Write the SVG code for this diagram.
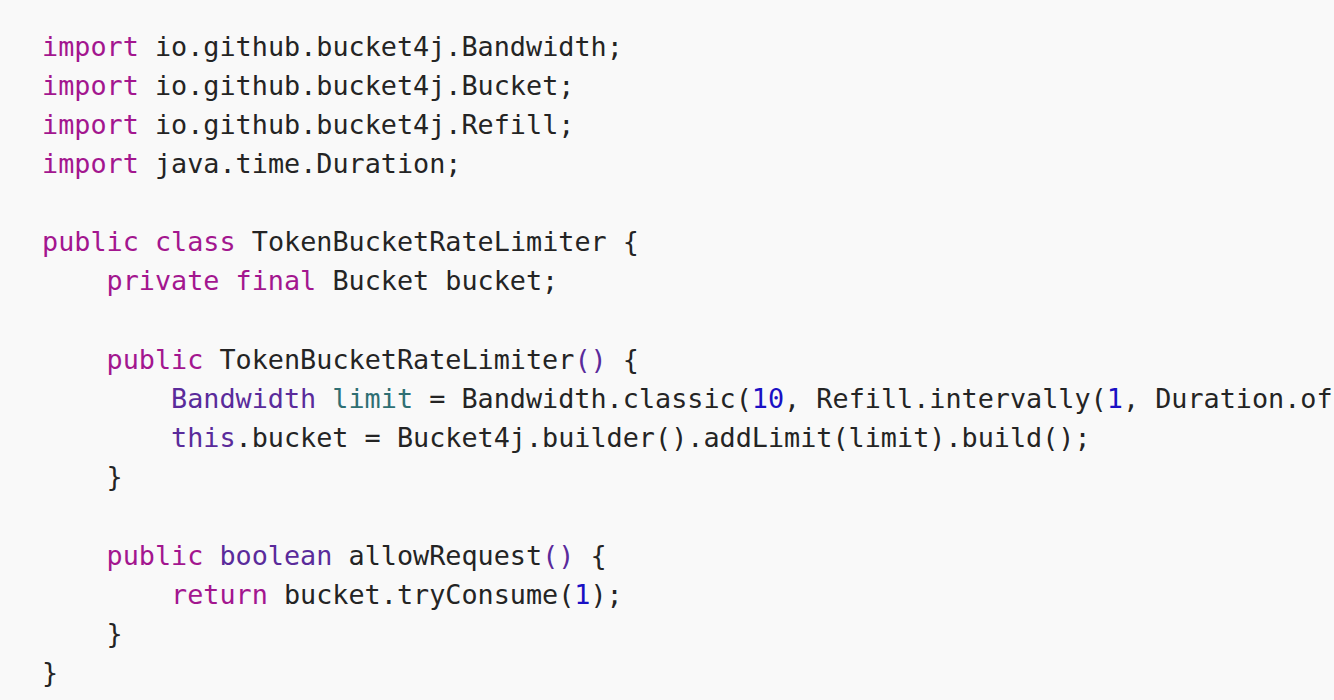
<svg xmlns="http://www.w3.org/2000/svg" width="1334" height="700" viewBox="0 0 1334 700" xml:space="preserve">
<style>
text { font-family: "DejaVu Sans Mono", "Liberation Mono", monospace; font-size: 26.8px; fill: #242424; white-space: pre; }
.k { fill: #a3168f; }
.t { fill: #5a2b9b; }
.v { fill: #2f6f73; }
.n { fill: #1a10c4; }
</style>
<rect x="0" y="0" width="1334" height="700" fill="#f9f9f9"/>
<g id="code">
<text x="42" y="55.5"><tspan class="k">import</tspan> io.github.bucket4j.Bandwidth;</text>
<text x="42" y="94.6"><tspan class="k">import</tspan> io.github.bucket4j.Bucket;</text>
<text x="42" y="133.8"><tspan class="k">import</tspan> io.github.bucket4j.Refill;</text>
<text x="42" y="172.9"><tspan class="k">import</tspan> java.time.Duration;</text>
<text x="42" y="251.2"><tspan class="k">public</tspan> <tspan class="k">class</tspan> TokenBucketRateLimiter {</text>
<text x="106.5" y="290.4"><tspan class="k">private</tspan> <tspan class="k">final</tspan> Bucket bucket;</text>
<text x="106.5" y="368.7"><tspan class="k">public</tspan> TokenBucketRateLimiter<tspan class="t">()</tspan> {</text>
<text x="171" y="407.9"><tspan class="t">Bandwidth</tspan> <tspan class="v">limit</tspan> = Bandwidth.classic(<tspan class="n">10</tspan>, Refill.intervally(<tspan class="n">1</tspan>, Duration.of</text>
<text x="171" y="447"><tspan class="t">this</tspan>.bucket = Bucket4j.builder().addLimit(limit).build();</text>
<text x="106.5" y="486.2">}</text>
<text x="106.5" y="564.5"><tspan class="k">public</tspan> <tspan class="t">boolean</tspan> allowRequest<tspan class="t">()</tspan> {</text>
<text x="171" y="603.7"><tspan class="k">return</tspan> bucket.tryConsume(<tspan class="n">1</tspan>);</text>
<text x="106.5" y="642.8">}</text>
<text x="42" y="682">}</text>
</g>
</svg>
